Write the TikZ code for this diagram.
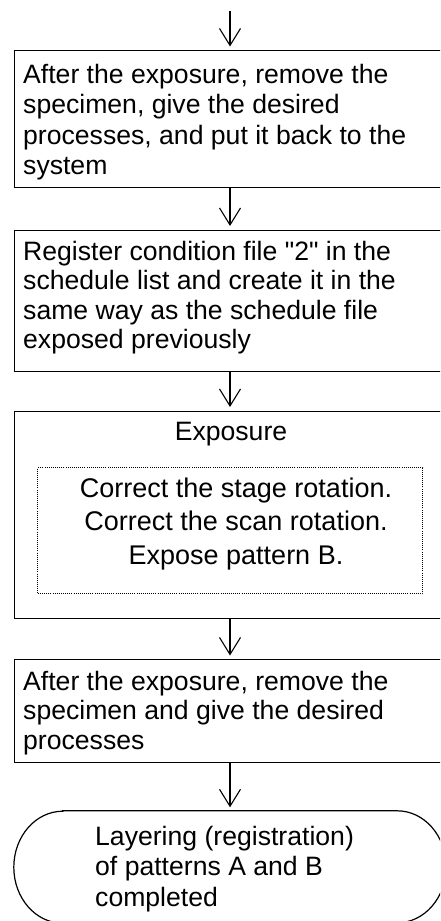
\documentclass[tikz,border=0pt]{standalone}
\usepackage{fontspec}
\setmainfont{Liberation Sans}[Ligatures=TeXOff]
\usetikzlibrary{arrows.meta}
% strut that fixes the top of each text block above its first baseline
\newcommand\tstrut{\rule{0pt}{21pt}}
\begin{document}
\begin{tikzpicture}[x=1pt,y=1pt,
  box/.style={draw, line width=1.2pt, minimum width=446pt, inner sep=0pt, anchor=north west},
  txt/.style={inner sep=0pt, anchor=north west, align=left},
  ctxt/.style={inner sep=0pt, align=center},
  flow/.style={line width=1.1pt, -{Straight Barb[length=17pt,width=21pt]}, shorten >=3.5pt},
  every node/.append style={font=\fontsize{26.6}{30.2}\selectfont}]
\useasboundingbox (0,0) rectangle (440,-921);
\clip (0,0) rectangle (440,-921);

% process boxes (they run past the right edge of the sheet)
\node[box, minimum height=137pt] (b1) at (14,-50) {};
\node[txt] (t1) at (23,-62.5) {\tstrut After the exposure, remove the\\specimen, give the desired\\processes, and put it back to the\\system};

\node[box, minimum height=141pt] (b2) at (14,-229.5) {};
\node[txt, font=\fontsize{26.6}{29.5}\selectfont] (t2) at (23,-239) {\tstrut Register condition file "2" in the\\schedule list and create it in the\\same way as the schedule file\\exposed previously};

\node[box, minimum height=207.5pt] (b3) at (14,-410.5) {};
\node[ctxt, anchor=base] (t3) at (231,-440.7) {Exposure};
\node[draw, line width=1pt, dash pattern=on 1pt off 1.1pt, inner sep=0pt,
      minimum width=385pt, minimum height=126pt, anchor=north west] (sub) at (37.3,-467.3) {};
\node[ctxt, anchor=north, font=\fontsize{27}{33.3}\selectfont] (t4) at (236,-476.3)
  {\tstrut Correct the stage rotation.\\Correct the scan rotation.\\Expose pattern B.};

\node[box, minimum height=103pt] (b4) at (14,-659) {};
\node[txt, font=\fontsize{26.6}{29.7}\selectfont] (t5) at (23,-669) {\tstrut After the exposure, remove the\\specimen and give the desired\\processes};

% terminal
\node[inner sep=0pt, minimum width=432pt, minimum height=112pt] (done) at (230,-867) {};
\draw[line width=1.2pt]
  ([xshift=49pt]done.north west) -- ([xshift=-49pt]done.north east)
  arc[start angle=90, end angle=-90, x radius=49pt, y radius=56pt]
  -- ([xshift=49pt]done.south west)
  arc[start angle=270, end angle=90, x radius=49pt, y radius=56pt] -- cycle;
\node[txt, font=\fontsize{26.6}{30.5}\selectfont] (t6) at (95,-824) {\tstrut Layering (registration)\\of patterns A and B\\completed};

% connectors, all on the centre line x = 230
\coordinate (start) at (230,-11);
\draw[flow] (start) -- (b1.north -| start);
\draw[flow] (b1.south -| start) -- (b2.north -| start);
\draw[flow] (b2.south -| start) -- (b3.north -| start);
\draw[flow] (b3.south -| start) -- (b4.north -| start);
\draw[flow] (b4.south -| start) -- (done);
\end{tikzpicture}
\end{document}
